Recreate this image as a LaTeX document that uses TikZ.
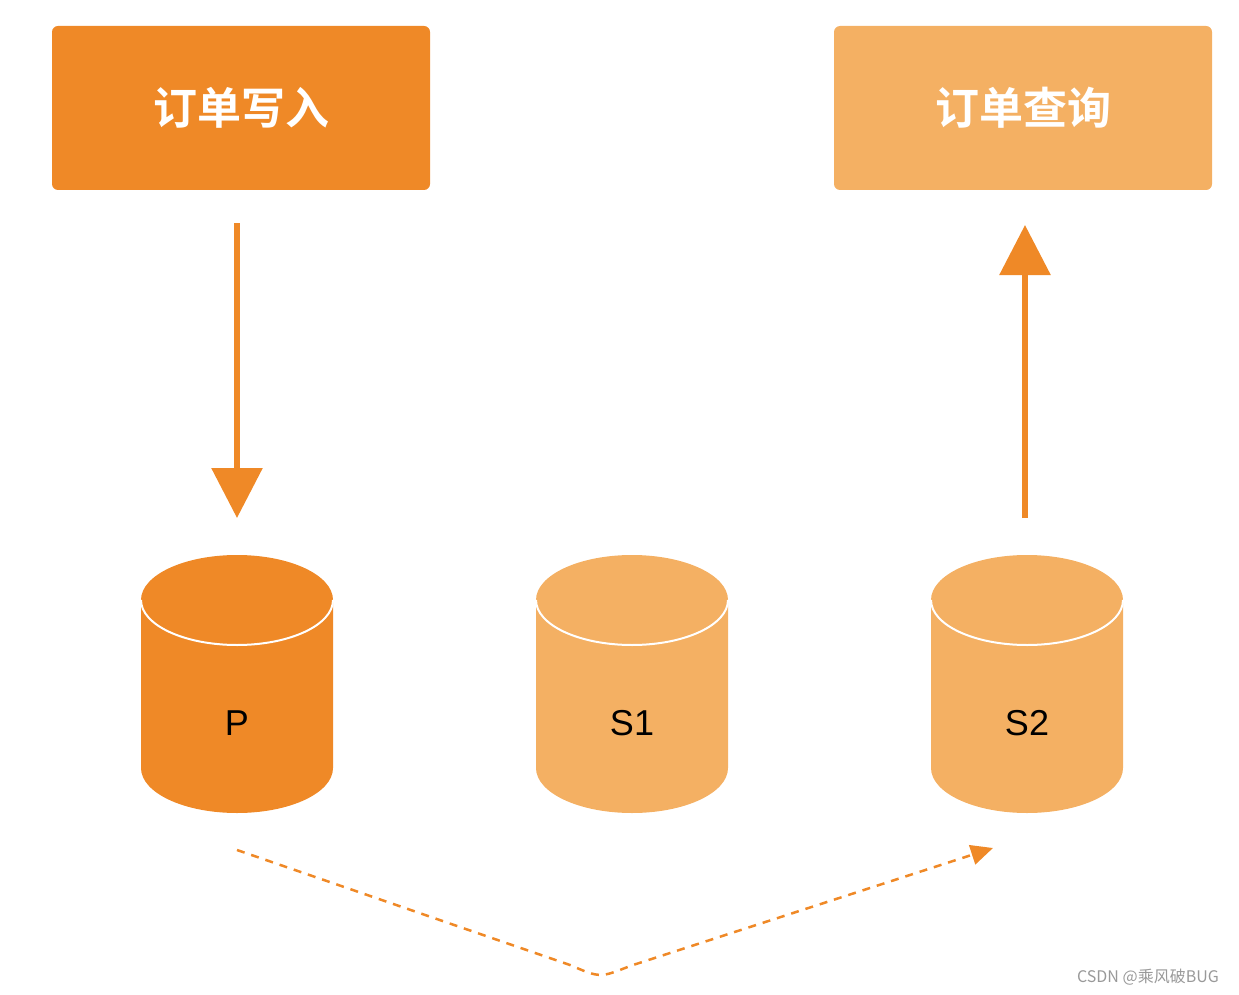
\documentclass[tikz,border=0pt]{standalone}
\usepackage{fontspec}
\setmainfont{Liberation Sans}
\newfontfamily\cjk{Noto Sans CJK SC}
\newfontfamily\cjkb{Noto Sans CJK SC Bold}
\usetikzlibrary{arrows.meta}
\definecolor{dk}{HTML}{EF8927}
\definecolor{lt}{HTML}{F4B063}
\tikzset{box/.style={rounded corners=6pt,minimum width=378pt,minimum height=164pt,inner sep=0pt,text=white,font=\cjkb\fontsize{44}{44}\selectfont},
lbl/.style={font=\fontsize{36}{36}\selectfont}}
\newcommand{\cyl}[3]{%
 \fill[#2] (#1-96,600) -- (#1-96,768) arc (180:0:96 and 45) -- (#1+96,600) arc (0:-180:96 and 45) -- cycle;
 \draw[white,line width=2pt] (#1-96,600) arc (180:0:96 and 45);
 \node[lbl] (#3) at (#1,723) {#3};}
\begin{document}
\begin{tikzpicture}[x=1pt,y=-1pt]
\useasboundingbox (0,0) rectangle (1239,995);
\node[box,fill=dk] (w) at (241,108) {订单写入};
\node[box,fill=lt] (q) at (1023,108) {订单查询};
\cyl{237}{dk}{P}
\cyl{632}{lt}{S1}
\cyl{1027}{lt}{S2}
\coordinate (a1) at (237,223); \coordinate (a2) at (237,518);
\coordinate (b1) at (1025,518); \coordinate (b2) at (1025,225);
\draw[dk,line width=6pt,-{Triangle[width=50pt,length=50pt]}] (a1) -- (a2);
\draw[dk,line width=6pt,-{Triangle[width=50pt,length=50pt]}] (b1) -- (b2);
\coordinate (d1) at (237,850); \coordinate (d2) at (993,848);
\draw[dk,line width=2.5pt,dash pattern=on 8pt off 7pt,-{Triangle[width=20pt,length=22pt]}] (d1) -- (570,965) .. controls (600,978) .. (630,966) -- (d2);
\node[text=gray!80,font=\cjk\fontsize{16}{16}\selectfont] (wm) at (1148,977) {CSDN @乘风破BUG};
\end{tikzpicture}
\end{document}
